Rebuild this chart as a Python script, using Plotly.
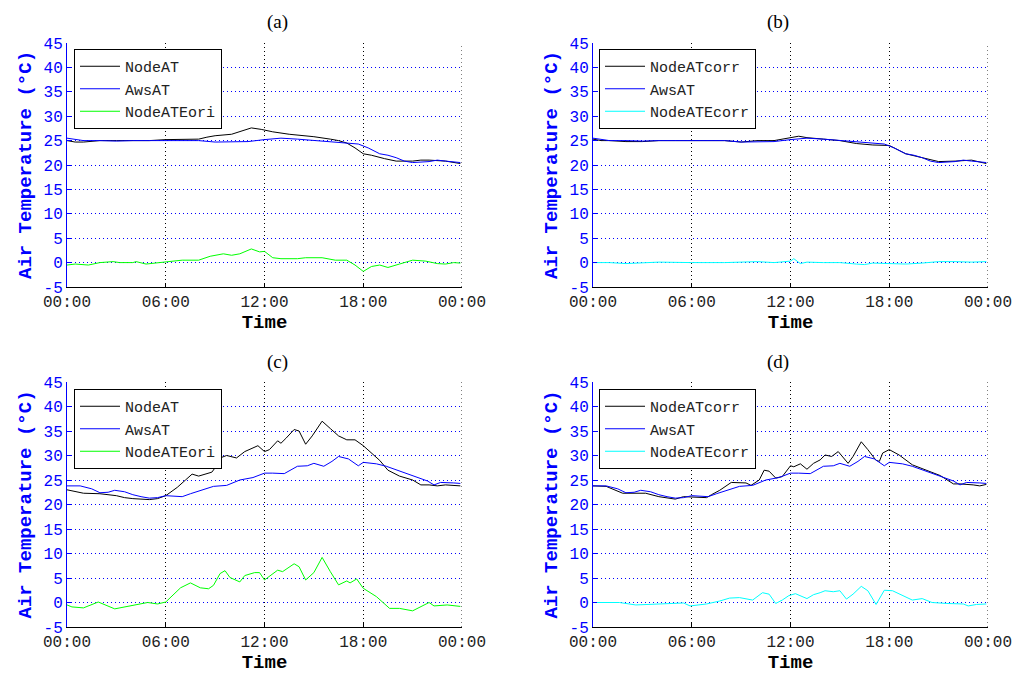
import plotly.graph_objects as go
from plotly.subplots import make_subplots

# ---- data (hours since 00:00, deg C) ----
# day 1 : panels (a) and (b)
aws1_h = [0, 0.5, 1, 2, 3, 4, 5, 6, 7, 8, 9, 10, 11, 12, 12.5, 13, 14, 15, 16, 17,
          17.7, 18.3, 19, 19.5, 20, 20.5, 21, 22, 22.5, 23, 23.9]
aws1 = [25.5, 25.2, 25.0, 25.0, 24.9, 25.0, 25.0, 25.0, 25.0, 25.0, 24.7, 24.8, 24.8, 25.2,
        25.4, 25.5, 25.3, 25.0, 24.8, 24.5, 24.3, 23.5, 22.3, 22.0, 21.5, 20.8, 20.5, 20.7,
        21.0, 20.8, 20.5]

node1_h = [0, 0.5, 1, 2, 3, 4, 5, 6, 7, 8, 8.5, 9, 10, 10.5, 11.2, 11.8, 12.5, 13.5, 14.5,
           15, 16, 16.5, 17, 17.5, 18, 18.5, 19.3, 20, 21, 21.5, 22, 23, 23.9]
node1 = [25.0, 24.7, 24.7, 25.0, 25.0, 25.0, 25.0, 25.2, 25.3, 25.3, 25.7, 26.0, 26.3, 26.8,
         27.6, 27.3, 26.8, 26.3, 26.0, 25.8, 25.3, 25.0, 24.5, 23.5, 22.3, 22.0, 21.3, 20.8,
         20.8, 21.0, 21.0, 20.8, 20.3]

err1_h = [0, 0.5, 1.3, 2, 2.8, 3.2, 4, 4.2, 4.8, 5.5, 6.3, 7, 8, 8.7, 9.5, 10, 10.5, 11.2,
          11.7, 12, 12.5, 13, 14, 14.5, 15.5, 16.3, 17, 17.5, 18, 18.5, 19, 19.5, 20.2, 21,
          21.8, 22.5, 23, 23.5, 23.9]
err1 = [-0.5, -0.3, -0.5, 0.0, 0.2, 0.0, 0.0, 0.2, -0.3, 0.0, 0.2, 0.5, 0.5, 1.3, 1.8, 1.5,
        1.8, 2.8, 2.2, 2.3, 1.0, 0.8, 0.8, 1.0, 1.0, 0.5, 0.5, -0.5, -1.8, -0.8, -0.5, -1.0,
        -0.3, 0.5, 0.3, -0.2, -0.3, 0.0, -0.1]

corr1_h = [0, 0.5, 1, 2, 3, 4, 5, 6, 7, 8, 9, 10, 11, 12, 12.5, 13, 13.5, 14, 15, 16, 17,
           18, 19, 20, 21, 22, 23, 23.9]
corr1 = [25.3, 25.0, 25.0, 24.8, 24.8, 25.0, 25.0, 25.0, 25.1, 25.0, 24.7, 25.0, 25.0, 25.5,
         25.9, 25.6, 25.5, 25.3, 25.0, 24.4, 24.1, 24.0, 22.3, 21.5, 20.7, 20.8, 21.0, 20.3]

ecorr1_h = [0, 1, 2, 3, 4, 6, 8, 10, 11, 12, 12.2, 12.6, 13, 14, 15, 16, 16.5, 17, 18, 19,
            20, 21, 22, 23, 23.9]
ecorr1 = [0.0, 0.0, -0.2, 0.0, 0.1, 0.0, 0.0, 0.2, 0.0, 0.3, 0.8, -0.2, 0.1, 0.0, 0.0, -0.3,
          -0.4, -0.1, -0.2, -0.3, -0.1, 0.2, 0.2, 0.1, 0.2]

# day 2 : panels (c) and (d)
aws2_h = [0, 0.8, 1.5, 2, 2.5, 2.9, 3.5, 4, 4.5, 5, 5.5, 6, 6.5, 7, 7.5, 8.1, 8.9, 9.7,
          10.5, 11.3, 12, 12.5, 13.2, 14, 14.6, 15, 15.6, 16.1, 16.5, 17.1, 17.7, 18, 18.8,
          19.4, 20.2, 21, 21.9, 22.3, 22.7, 23.5, 23.9]
aws2 = [23.8, 23.8, 23.2, 22.4, 22.5, 22.9, 22.6, 22.0, 21.6, 21.3, 21.4, 21.8, 21.7, 21.6,
        22.2, 22.9, 23.7, 23.9, 25.0, 25.5, 26.4, 26.4, 26.3, 27.8, 27.9, 28.4, 27.8, 28.8,
        29.8, 29.3, 27.9, 28.6, 28.3, 27.8, 26.8, 25.9, 24.8, 24.0, 24.5, 24.4, 24.3]

node2_h = [0, 1, 2, 3, 3.5, 4, 5, 5.5, 6, 6.7, 7.2, 7.6, 8.0, 8.5, 8.8, 9.0, 9.3, 9.7, 10.3,
           10.8, 11.3, 11.6, 12, 12.3, 12.8, 13, 13.3, 13.8, 14.1, 14.5, 14.9, 15.2, 15.5,
           16, 16.5, 17, 17.5, 18, 18.5, 19, 19.5, 20.2, 21, 21.5, 22, 22.5, 23, 23.9]
node2 = [23.0, 22.3, 22.2, 21.8, 21.4, 21.2, 21.0, 21.2, 21.8, 23.5, 25.0, 26.2, 25.8, 26.3,
         26.6, 27.5, 29.5, 30.0, 29.5, 30.8, 31.5, 32.0, 30.8, 31.2, 33.0, 32.5, 33.5, 35.3,
         35.0, 32.3, 34.0, 35.5, 37.0, 35.5, 34.0, 33.2, 33.2, 32.0, 30.5, 29.0, 27.0, 25.8,
         25.0, 24.0, 24.0, 23.8, 24.0, 23.8]

err2_h = [0, 0.3, 1.0, 1.9, 2.9, 3.5, 4.9, 5.5, 6.0, 6.9, 7.5, 8.1, 8.6, 8.9, 9.3, 9.6, 9.9,
          10.5, 10.8, 11.4, 11.7, 12.0, 12.8, 13.1, 13.4, 13.8, 14.1, 14.5, 15.0, 15.5, 16.0,
          16.5, 17.0, 17.2, 17.6, 18.0, 18.8, 19.6, 20.2, 21.0, 22.0, 22.3, 23.1, 23.9]
err2 = [-0.5, -0.9, -1.1, 0.1, -1.3, -0.9, 0.0, -0.3, 0.1, 3.0, 4.0, 3.0, 2.8, 3.5, 5.9, 6.5,
        5.1, 4.2, 5.5, 6.1, 6.1, 4.6, 6.6, 6.3, 7.0, 7.9, 7.3, 4.6, 6.1, 9.2, 6.3, 3.6, 4.4,
        4.0, 4.8, 2.9, 1.2, -1.2, -1.2, -1.7, 0.0, -0.7, -0.5, -0.8]

corr2_h = [0, 0.8, 1.8, 3.2, 4, 5, 5.5, 6.9, 7.2, 7.7, 8.4, 9.3, 9.6, 10.1, 10.4, 10.7, 11.1,
           11.5, 12, 12.2, 12.6, 13, 13.4, 13.8, 14.1, 14.5, 14.9, 15.5, 15.8, 16.3, 16.7,
           17.2, 17.4, 17.6, 18, 18.6, 19.4, 20.2, 21.1, 21.9, 22.3, 23.1, 23.5, 23.9]
corr2 = [23.8, 23.7, 22.3, 22.3, 21.6, 21.1, 21.6, 21.4, 22.0, 22.9, 24.5, 24.4, 23.9, 25.0,
         27.0, 26.8, 25.4, 25.7, 27.9, 27.7, 28.3, 27.2, 28.4, 29.1, 30.1, 29.8, 30.8, 28.4,
         29.8, 32.8, 31.2, 29.0, 28.8, 30.5, 31.2, 30.1, 28.1, 27.1, 25.9, 24.2, 24.2, 24.0,
         23.8, 24.1]

ecorr2_h = [0, 1.6, 2.6, 4.3, 5.5, 5.9, 6.9, 7.7, 8.3, 8.9, 9.7, 10.3, 10.7, 11.1, 11.5,
            11.9, 12.3, 13, 13.4, 13.8, 14.1, 14.6, 15, 15.4, 15.8, 16.3, 16.7, 17.2, 17.5,
            17.7, 18.2, 18.8, 19.4, 20, 20.6, 21.5, 22.5, 22.8, 23.3, 23.9]
ecorr2 = [0.0, 0.0, -0.5, -0.3, -0.1, -0.7, -0.3, 0.3, 0.9, 1.0, 0.5, 2.0, 1.7, -0.2, 0.5,
          1.4, 1.8, 0.8, 1.6, 2.0, 2.4, 2.2, 2.4, 0.7, 1.7, 3.3, 2.4, -0.4, 1.2, 2.5, 2.4,
          1.5, 0.5, 0.8, 0.0, -0.2, -0.3, -0.7, -0.4, -0.3]

x_ticks = [0, 6, 12, 18, 24]
x_labels = ["00:00", "06:00", "12:00", "18:00", "00:00"]
y_ticks = list(range(-5, 50, 5))
y_labels = [str(v) for v in y_ticks]
titles = ["(a)", "(b)", "(c)", "(d)"]

MONO = "Liberation Mono"
BLUE = "#0000ff"

# the page body has an 8px margin, so the figure is a bit smaller than the window
W, H, OFF = 1016, 673, 8


def px_x(p):
    return (p - OFF) / W


def px_y(p):
    return 1 - (p - OFF) / H


fig = make_subplots(rows=2, cols=2)

panels = [
    (1, 1, [("NodeAT", node1_h, node1, "#000000"), ("AwsAT", aws1_h, aws1, BLUE),
            ("NodeATEori", err1_h, err1, "#00ff00")]),
    (1, 2, [("NodeATcorr", corr1_h, corr1, "#000000"), ("AwsAT", aws1_h, aws1, BLUE),
            ("NodeATEcorr", ecorr1_h, ecorr1, "#00ffff")]),
    (2, 1, [("NodeAT", node2_h, node2, "#000000"), ("AwsAT", aws2_h, aws2, BLUE),
            ("NodeATEori", err2_h, err2, "#00ff00")]),
    (2, 2, [("NodeATcorr", corr2_h, corr2, "#000000"), ("AwsAT", aws2_h, aws2, BLUE),
            ("NodeATEcorr", ecorr2_h, ecorr2, "#00ffff")]),
]
legend_ids = ["legend", "legend2", "legend3", "legend4"]

for i, (r, c, series) in enumerate(panels):
    for name, xs, ys, col in series:
        fig.add_trace(go.Scatter(x=xs, y=ys, mode="lines", name=name,
                                 line=dict(color=col, width=1),
                                 legend=legend_ids[i]), row=r, col=c)

# pixel layout of the reference
x_dom = [[px_x(67), px_x(462)], [px_x(593), px_x(988)]]
y_dom = [[px_y(287), px_y(43)], [px_y(627), px_y(382)]]
title_y = [px_y(22), px_y(362)]

for i, (r, c, _) in enumerate(panels):
    n = "" if i == 0 else str(i + 1)
    fig.layout["xaxis" + n].update(
        domain=x_dom[c - 1], range=[0, 24], tickvals=x_ticks, ticktext=x_labels,
        showgrid=True, gridcolor="#000000", griddash="1px,3px", gridwidth=1,
        showline=True, linecolor="#000000", linewidth=1, zeroline=False,
        ticks="inside", ticklen=4, tickcolor="#000000", automargin=False,
        tickfont=dict(family=MONO, size=16, color="#222222"),
        title=dict(text="Time", standoff=1,
                   font=dict(family=MONO, size=19, color="#000000", weight="bold")))
    fig.layout["yaxis" + n].update(
        domain=y_dom[r - 1], range=[-5, 45], tickvals=y_ticks, ticktext=y_labels,
        showgrid=True, gridcolor=BLUE, griddash="1px,3px", gridwidth=1,
        showline=True, linecolor=BLUE, linewidth=1, zeroline=False,
        ticks="inside", ticklen=4, tickcolor=BLUE, automargin=False,
        tickfont=dict(family=MONO, size=16, color=BLUE),
        title=dict(text="Air Temperature (°C)", standoff=6,
                   font=dict(family=MONO, size=19, color=BLUE, weight="bold")))
    # dotted right-hand border (the grid line at the last tick)
    fig.add_shape(type="line", xref="x" + n, yref="y" + n + " domain",
                  x0=24, x1=24, y0=0, y1=1,
                  line=dict(color="#000000", width=1, dash="1px,3px"))
    fig.add_annotation(text=titles[i], xref="paper", yref="paper",
                       x=sum(x_dom[c - 1]) / 2, y=title_y[r - 1],
                       showarrow=False, yanchor="middle",
                       font=dict(family="Liberation Serif", size=19, color="#000000"))

leg_pos = [(px_x(74), px_y(49)), (px_x(599), px_y(49)),
           (px_x(74), px_y(389)), (px_x(599), px_y(389))]
for lid, (lx, ly) in zip(legend_ids, leg_pos):
    fig.layout[lid] = dict(x=lx, y=ly, xanchor="left", yanchor="top",
                           bgcolor="#ffffff", bordercolor="#000000", borderwidth=1,
                           font=dict(family=MONO, size=15, color="#222222"),
                           tracegroupgap=0, itemwidth=40)

fig.update_layout(width=W, height=H, margin=dict(l=0, r=0, t=0, b=0),
                  plot_bgcolor="#ffffff", paper_bgcolor="#ffffff", showlegend=True)

fig.write_html("out.html")
